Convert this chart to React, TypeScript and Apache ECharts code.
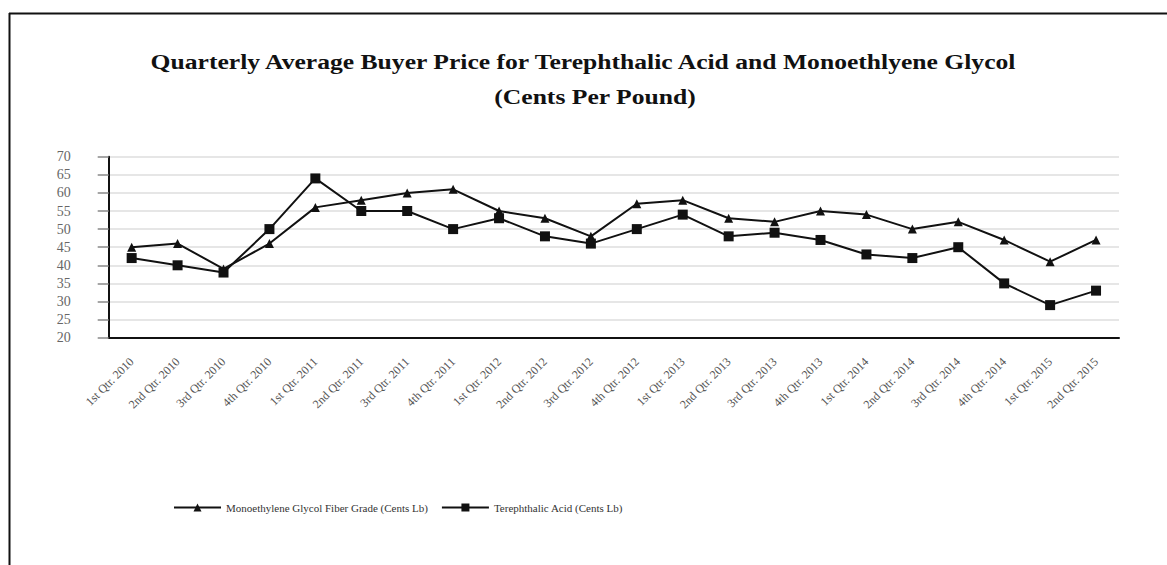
import React, { useEffect, useRef } from "react";
import * as echarts from "echarts";

const categories = [
  "1st Qtr. 2010", "2nd Qtr. 2010", "3rd Qtr. 2010", "4th Qtr. 2010",
  "1st Qtr. 2011", "2nd Qtr. 2011", "3rd Qtr. 2011", "4th Qtr. 2011",
  "1st Qtr. 2012", "2nd Qtr. 2012", "3rd Qtr. 2012", "4th Qtr. 2012",
  "1st Qtr. 2013", "2nd Qtr. 2013", "3rd Qtr. 2013", "4th Qtr. 2013",
  "1st Qtr. 2014", "2nd Qtr. 2014", "3rd Qtr. 2014", "4th Qtr. 2014",
  "1st Qtr. 2015", "2nd Qtr. 2015",
];

const megValues = [45, 46, 39, 46, 56, 58, 60, 61, 55, 53, 48, 57, 58, 53, 52, 55, 54, 50, 52, 47, 41, 47];
const ptaValues = [42, 40, 38, 50, 64, 55, 55, 50, 53, 48, 46, 50, 54, 48, 49, 47, 43, 42, 45, 35, 29, 33];

const megName = "Monoethylene Glycol Fiber Grade (Cents Lb)";
const ptaName = "Terephthalic Acid (Cents Lb)";
const titleLine1 = "Quarterly Average Buyer Price for Terephthalic Acid and Monoethlyene Glycol";
const titleLine2 = "(Cents Per Pound)";

const FONT = "'Liberation Serif', 'Times New Roman', serif";

export default function App() {
  const ref = useRef<HTMLDivElement>(null);
  useEffect(() => {
    if (!ref.current) return;
    const chart = echarts.init(ref.current, null, { renderer: "svg" });
    const titleStyle = (text: string) => ({
      text,
      align: "center",
      verticalAlign: "middle",
      textAlign: "center",
      textVerticalAlign: "middle",
      fontFamily: FONT,
      fontSize: 21,
      fontWeight: "bold",
      fill: "#111",
    });
    chart.setOption({
      animation: false,
      backgroundColor: "#ffffff",
      textStyle: { fontFamily: FONT },
      graphic: [
        { type: "line", shape: { x1: 9, y1: 13.5, x2: 1167, y2: 13.5 }, style: { stroke: "#111", lineWidth: 2 } },
        { type: "line", shape: { x1: 9.5, y1: 13, x2: 9.5, y2: 565 }, style: { stroke: "#111", lineWidth: 2 } },
        { type: "text", x: 583, y: 62, scaleX: 1.22, style: titleStyle(titleLine1) },
        { type: "text", x: 595, y: 97, scaleX: 1.22, style: titleStyle(titleLine2) },
      ],
      legend: {
        left: 168,
        top: 497,
        itemWidth: 47,
        itemHeight: 10,
        itemGap: 13,
        textStyle: { fontFamily: FONT, fontSize: 11, color: "#333" },
        data: [megName, ptaName],
      },
      grid: { left: 108.7, right: 48, top: 156.7, bottom: 227.3, containLabel: false },
      xAxis: {
        type: "category",
        data: categories,
        boundaryGap: true,
        axisLine: { lineStyle: { color: "#111", width: 2 } },
        axisTick: { alignWithLabel: true, length: 10, lineStyle: { color: "#111", width: 1.5 } },
        axisLabel: {
          rotate: 45,
          interval: 0,
          margin: 22,
          fontFamily: FONT,
          fontSize: 12,
          color: "#555",
        },
      },
      yAxis: {
        type: "value",
        min: 20,
        max: 70,
        interval: 5,
        axisLine: { show: true, lineStyle: { color: "#111", width: 2 } },
        axisTick: { show: true, length: 11, lineStyle: { color: "#888", width: 1.5 } },
        axisLabel: { fontFamily: FONT, fontSize: 14, color: "#666", margin: 52, align: "left" },
        splitLine: { lineStyle: { color: "#e6e6e6", width: 2 } },
      },
      series: [
        {
          name: megName,
          type: "line",
          data: megValues,
          symbol: "triangle",
          symbolSize: 9,
          lineStyle: { color: "#111", width: 2 },
          itemStyle: { color: "#111" },
        },
        {
          name: ptaName,
          type: "line",
          data: ptaValues,
          symbol: "rect",
          symbolSize: 10,
          lineStyle: { color: "#111", width: 2 },
          itemStyle: { color: "#111" },
        },
      ],
    });
    return () => chart.dispose();
  }, []);
  return (
    <div
      ref={ref}
      style={{ position: "fixed", left: 0, top: 0, width: 1167, height: 565 }}
    />
  );
}
